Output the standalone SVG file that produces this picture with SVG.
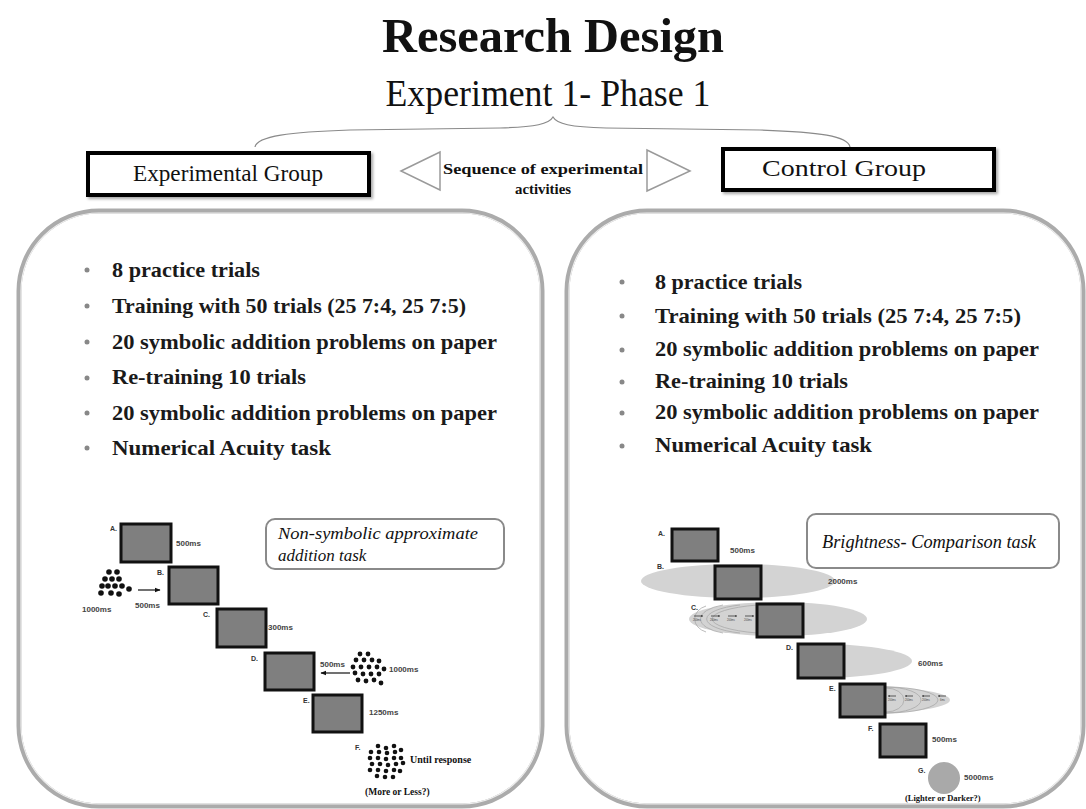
<svg xmlns="http://www.w3.org/2000/svg" width="1086" height="809" viewBox="0 0 1086 809">
<defs>
<style>
.serif{font-family:"Liberation Serif","Times New Roman",serif;fill:#111}
.bul{font-family:"Liberation Serif","Times New Roman",serif;font-weight:bold;font-size:21px;fill:#1a1a1a}
.ms{font-family:"Liberation Sans",Arial,sans-serif;font-weight:bold;font-size:8px;fill:#444}
.lab{font-family:"Liberation Sans",Arial,sans-serif;font-weight:bold;font-size:7px;fill:#333}
.tiny{font-family:"Liberation Sans",Arial,sans-serif;font-size:2.6px;fill:#444}
.scr{fill:#7f7f7f;stroke:#111;stroke-width:3}
.panel-o{fill:#fff;stroke:#ababab;stroke-width:5}
.panel-i{fill:none;stroke:#eeeeee;stroke-width:1.2}
.dot{fill:#888}
.ell{fill:#d3d3d3}
.arc{fill:none;stroke:#aaa;stroke-width:0.8}
.grp{fill:#fff;stroke:#000;stroke-width:4}
.tri{fill:#fff;stroke:#9a9a9a;stroke-width:1.5}
.task{fill:#fff;stroke:#8a8a8a;stroke-width:2}
.cl circle{fill:#111}
</style>
<marker id="ah" viewBox="0 0 10 10" refX="9" refY="5" markerWidth="5" markerHeight="5" orient="auto">
<path d="M0,1 L10,5 L0,9 z" fill="#111"/>
</marker>
<marker id="ahs" viewBox="0 0 10 10" refX="9" refY="5" markerWidth="3" markerHeight="3" orient="auto">
<path d="M0,1 L10,5 L0,9 z" fill="#222"/>
</marker>
<filter id="sh" x="-5%" y="-10%" width="115%" height="130%">
<feDropShadow dx="2" dy="2" stdDeviation="1.5" flood-color="#000" flood-opacity="0.35"/>
</filter>
</defs>
<rect width="1086" height="809" fill="#fff"/>

<g id="title">
<text class="serif" x="553" y="52" font-size="49" font-weight="bold" text-anchor="middle" textLength="342" lengthAdjust="spacingAndGlyphs">Research Design</text>
<text class="serif" x="548" y="106" font-size="38" text-anchor="middle" textLength="325" lengthAdjust="spacingAndGlyphs">Experiment 1- Phase 1</text>
</g>

<g id="connectors">
<path d="M255,147 C257,136 290,132 350,130 L500,128 C536,127 549,124 553,117 C557,124 570,127 606,128 L760,130 C820,132 848,136 850,147" fill="none" stroke="#8a8a8a" stroke-width="1.2"/>
</g>

<g id="experimental-group">
<rect class="grp" x="88" y="153" width="281" height="42" filter="url(#sh)"/>
<text class="serif" x="228" y="181" font-size="23" text-anchor="middle" textLength="190" lengthAdjust="spacingAndGlyphs">Experimental  Group</text>
</g>

<g id="control-group">
<rect class="grp" x="723" y="149" width="271" height="41" filter="url(#sh)"/>
<text class="serif" x="844" y="176" font-size="23" text-anchor="middle" textLength="164" lengthAdjust="spacingAndGlyphs">Control  Group</text>
</g>

<g id="sequence">
<polygon class="tri" points="401,171 440,152 440,190"/>
<polygon class="tri" points="690,171 647,150 647,191"/>
<text class="serif" x="543" y="174" font-size="15" font-weight="bold" text-anchor="middle" textLength="200" lengthAdjust="spacingAndGlyphs">Sequence of experimental</text>
<text class="serif" x="543" y="194" font-size="15" font-weight="bold" text-anchor="middle" textLength="56" lengthAdjust="spacingAndGlyphs">activities</text>
</g>

<g id="left-panel">
<rect class="panel-o" x="19" y="211" width="523" height="595" rx="80" ry="80"/>
<rect class="panel-i" x="21" y="213" width="519" height="591" rx="78" ry="78"/>
<circle class="dot" cx="87" cy="270" r="2.5"/>
<circle class="dot" cx="87" cy="306" r="2.5"/>
<circle class="dot" cx="87" cy="342" r="2.5"/>
<circle class="dot" cx="87" cy="378" r="2.5"/>
<circle class="dot" cx="87" cy="413" r="2.5"/>
<circle class="dot" cx="87" cy="448" r="2.5"/>
<text class="bul" x="112" y="277" textLength="148" lengthAdjust="spacingAndGlyphs">8 practice trials</text>
<text class="bul" x="112" y="313" textLength="354" lengthAdjust="spacingAndGlyphs">Training  with  50 trials  (25 7:4, 25 7:5)</text>
<text class="bul" x="112" y="349" textLength="385" lengthAdjust="spacingAndGlyphs">20 symbolic addition  problems on paper</text>
<text class="bul" x="112" y="384" textLength="194" lengthAdjust="spacingAndGlyphs">Re-training  10 trials</text>
<text class="bul" x="112" y="420" textLength="385" lengthAdjust="spacingAndGlyphs">20 symbolic addition  problems on paper</text>
<text class="bul" x="112" y="455" textLength="219" lengthAdjust="spacingAndGlyphs">Numerical Acuity task</text>
</g>

<g id="left-task-label">
<rect class="task" x="266" y="519" width="238" height="50" rx="9"/>
<text class="serif" x="278" y="539" font-size="17" font-style="italic" textLength="200" lengthAdjust="spacingAndGlyphs">Non-symbolic  approximate</text>
<text class="serif" x="278" y="561" font-size="17" font-style="italic">addition task</text>
</g>

<g id="left-sequence">
<rect class="scr" x="121" y="524" width="50" height="38"/>
<text class="lab" x="110" y="531">A.</text>
<text class="ms" x="176" y="546">500ms</text>
<rect class="scr" x="169" y="567" width="49" height="37"/>
<text class="lab" x="157" y="575">B.</text>
<g class="cl">
<circle cx="109" cy="572" r="2.8"/><circle cx="117" cy="572" r="2.8"/>
<circle cx="105" cy="579" r="2.8"/><circle cx="112" cy="579" r="2.8"/><circle cx="119" cy="579" r="2.8"/>
<circle cx="108" cy="586" r="2.8"/><circle cx="115" cy="586" r="2.8"/><circle cx="122" cy="586" r="2.8"/><circle cx="102" cy="586" r="2.8"/>
<circle cx="101" cy="593" r="2.8"/><circle cx="111" cy="593" r="2.8"/><circle cx="119" cy="594" r="2.8"/><circle cx="129" cy="589" r="2.8"/>
</g>
<line x1="138" y1="590" x2="160" y2="590" stroke="#111" stroke-width="1.2" marker-end="url(#ah)"/>
<text class="ms" x="82" y="612">1000ms</text>
<text class="ms" x="135" y="608">500ms</text>
<rect class="scr" x="217" y="609" width="49" height="38"/>
<text class="lab" x="203" y="617">C.</text>
<text class="ms" x="268" y="630">300ms</text>
<rect class="scr" x="265" y="653" width="49" height="37"/>
<text class="lab" x="251" y="661">D.</text>
<text class="ms" x="320" y="667">500ms</text>
<line x1="350" y1="673" x2="321" y2="673" stroke="#111" stroke-width="1.2" marker-end="url(#ah)"/>
<g class="cl">
<circle cx="360" cy="654" r="2.4"/><circle cx="368" cy="654" r="2.4"/>
<circle cx="356" cy="660" r="2.4"/><circle cx="364" cy="660" r="2.4"/><circle cx="372" cy="660" r="2.4"/><circle cx="379" cy="661" r="2.4"/>
<circle cx="353" cy="667" r="2.4"/><circle cx="361" cy="667" r="2.4"/><circle cx="369" cy="667" r="2.4"/><circle cx="377" cy="667" r="2.4"/><circle cx="384" cy="669" r="2.4"/>
<circle cx="355" cy="673" r="2.4"/><circle cx="363" cy="674" r="2.4"/><circle cx="371" cy="674" r="2.4"/><circle cx="379" cy="674" r="2.4"/>
<circle cx="358" cy="680" r="2.4"/><circle cx="366" cy="681" r="2.4"/><circle cx="374" cy="680" r="2.4"/><circle cx="381" cy="683" r="2.4"/>
</g>
<text class="ms" x="389" y="672">1000ms</text>
<rect class="scr" x="313" y="695" width="49" height="37"/>
<text class="lab" x="303" y="703">E.</text>
<text class="ms" x="369" y="715">1250ms</text>
<text class="lab" x="355" y="750">F.</text>
<g class="cl">
<circle cx="378" cy="746" r="2.3"/><circle cx="386" cy="748" r="2.3"/><circle cx="394" cy="746" r="2.3"/>
<circle cx="371" cy="752" r="2.3"/><circle cx="379" cy="752" r="2.3"/><circle cx="387" cy="753" r="2.3"/><circle cx="395" cy="752" r="2.3"/><circle cx="401" cy="750" r="2.3"/>
<circle cx="370" cy="758" r="2.3"/><circle cx="378" cy="758" r="2.3"/><circle cx="386" cy="759" r="2.3"/><circle cx="394" cy="758" r="2.3"/><circle cx="401" cy="758" r="2.3"/>
<circle cx="372" cy="764" r="2.3"/><circle cx="380" cy="764" r="2.3"/><circle cx="388" cy="765" r="2.3"/><circle cx="396" cy="764" r="2.3"/><circle cx="403" cy="763" r="2.3"/>
<circle cx="370" cy="770" r="2.3"/><circle cx="378" cy="770" r="2.3"/><circle cx="386" cy="771" r="2.3"/><circle cx="394" cy="770" r="2.3"/><circle cx="400" cy="771" r="2.3"/>
<circle cx="377" cy="776" r="2.3"/><circle cx="385" cy="777" r="2.3"/><circle cx="393" cy="777" r="2.3"/>
</g>
<text class="serif" x="410" y="763" font-size="10" font-weight="bold" fill="#333">Until response</text>
<text class="serif" x="365" y="795" font-size="9.5" font-weight="bold" fill="#333">(More or Less?)</text>
</g>

<g id="right-panel">
<rect class="panel-o" x="567" y="211" width="516" height="595" rx="80" ry="80"/>
<rect class="panel-i" x="569" y="213" width="512" height="591" rx="78" ry="78"/>
<circle class="dot" cx="622" cy="282" r="2.5"/>
<circle class="dot" cx="622" cy="316" r="2.5"/>
<circle class="dot" cx="622" cy="350" r="2.5"/>
<circle class="dot" cx="622" cy="382" r="2.5"/>
<circle class="dot" cx="622" cy="413" r="2.5"/>
<circle class="dot" cx="622" cy="446" r="2.5"/>
<text class="bul" x="655" y="289" textLength="147" lengthAdjust="spacingAndGlyphs">8 practice trials</text>
<text class="bul" x="655" y="323" textLength="366" lengthAdjust="spacingAndGlyphs">Training  with  50 trials  (25 7:4, 25 7:5)</text>
<text class="bul" x="655" y="356" textLength="384" lengthAdjust="spacingAndGlyphs">20 symbolic addition  problems on paper</text>
<text class="bul" x="655" y="388" textLength="193" lengthAdjust="spacingAndGlyphs">Re-training  10 trials</text>
<text class="bul" x="655" y="419" textLength="384" lengthAdjust="spacingAndGlyphs">20 symbolic addition  problems on paper</text>
<text class="bul" x="655" y="452" textLength="217" lengthAdjust="spacingAndGlyphs">Numerical Acuity task</text>
</g>

<g id="right-task-label">
<rect class="task" x="807" y="514" width="252" height="54" rx="9"/>
<text class="serif" x="822" y="548" font-size="18" font-style="italic" textLength="214" lengthAdjust="spacingAndGlyphs">Brightness-  Comparison  task</text>
</g>

<g id="right-sequence">
<rect class="scr" x="672" y="529" width="46" height="32"/>
<text class="lab" x="658" y="536">A.</text>
<text class="ms" x="730" y="553">500ms</text>
<ellipse class="ell" cx="738" cy="581" rx="97" ry="17"/>
<rect class="scr" x="715" y="566" width="46" height="33"/>
<text class="lab" x="657" y="569">B.</text>
<text class="ms" x="828" y="584">2000ms</text>
<ellipse class="ell" cx="778" cy="619" rx="89" ry="17"/>
<path class="arc" d="M757,605 A70,15 0 0 0 757,633"/>
<path class="arc" d="M740,605 A52,15 0 0 0 740,633"/>
<path class="arc" d="M723,605 A35,15 0 0 0 723,633"/>
<path class="arc" d="M706,606 A18,14 0 0 0 706,632"/>
<g stroke="#222" stroke-width="0.7" marker-end="url(#ahs)">
<line x1="694" y1="616" x2="703" y2="616"/>
<line x1="711" y1="616" x2="720" y2="616"/>
<line x1="728" y1="616" x2="737" y2="616"/>
<line x1="745" y1="616" x2="754" y2="616"/>
</g>
<text class="tiny" x="693" y="621">200ms</text>
<text class="tiny" x="710" y="621">200ms</text>
<text class="tiny" x="727" y="621">200ms</text>
<text class="tiny" x="744" y="621">200ms</text>
<rect class="scr" x="757" y="604" width="46" height="33"/>
<text class="lab" x="691" y="610">C.</text>
<path class="ell" d="M820,644 C870,644 912,652 912,661 C912,670 870,678 820,678 Z"/>
<rect class="scr" x="798" y="644" width="46" height="34"/>
<text class="lab" x="786" y="650">D.</text>
<text class="ms" x="918" y="666">600ms</text>
<path class="ell" d="M860,686 C905,686 950,692 950,700 C950,708 905,714 860,714 Z"/>
<path class="arc" d="M886,688 A18,12 0 0 1 886,712"/>
<path class="arc" d="M886,687 A35,13 0 0 1 886,713"/>
<path class="arc" d="M886,687 A52,13 0 0 1 886,713"/>
<g stroke="#222" stroke-width="0.7" marker-end="url(#ahs)">
<line x1="896" y1="696" x2="888" y2="696"/>
<line x1="913" y1="696" x2="905" y2="696"/>
<line x1="930" y1="696" x2="922" y2="696"/>
<line x1="946" y1="696" x2="938" y2="696"/>
</g>
<text class="tiny" x="888" y="701">200ms</text>
<text class="tiny" x="905" y="701">200ms</text>
<text class="tiny" x="922" y="701">200ms</text>
<text class="tiny" x="940" y="701">6ms</text>
<rect class="scr" x="840" y="684" width="45" height="33"/>
<text class="lab" x="829" y="691">E.</text>
<rect class="scr" x="880" y="724" width="46" height="33"/>
<text class="lab" x="868" y="731">F.</text>
<text class="ms" x="932" y="742">500ms</text>
<circle cx="944" cy="778" r="16" fill="#a9a9a9"/>
<text class="lab" x="918" y="773">G.</text>
<text class="ms" x="964" y="780">5000ms</text>
<text class="serif" x="905" y="801" font-size="8.5" font-weight="bold" fill="#333">(Lighter or Darker?)</text>
</g>
</svg>
